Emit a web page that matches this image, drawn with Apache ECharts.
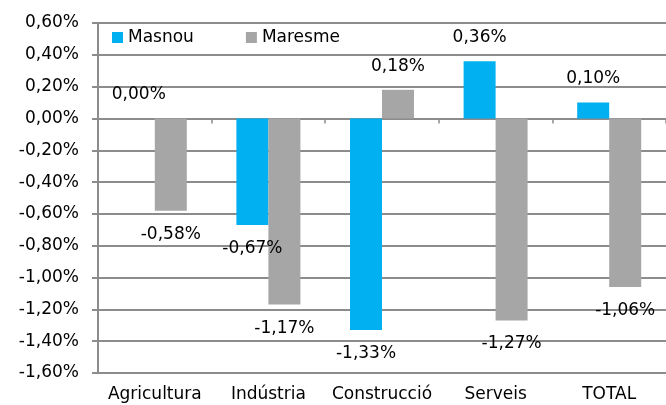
<!DOCTYPE html>
<html>
<head>
<meta charset="utf-8">
<script src="https://cdn.jsdelivr.net/npm/echarts@6/dist/echarts.min.js"></script>
<style>
html,body{margin:0;padding:0;background:#fff;}
#chart{width:666px;height:405px;}
</style>
</head>
<body>
<div id="chart"></div>
<script>
// dades
var sectors = ['Agricultura', 'Indústria', 'Construcció', 'Serveis', 'TOTAL'];
var masnou = [0.00, -0.67, -1.33, 0.36, 0.10];
var maresme = [-0.58, -1.17, 0.18, -1.27, -1.06];
var yMin = -1.6, yMax = 0.6, yStep = 0.2;

var font = 'DejaVu Sans';

function pct(v){
    return v.toFixed(2).replace('.', ',') + '%';
}

// etiqueta a dalt si es positiu, a baix si es negatiu
function withLabels(list){
    return list.map(function(v){
        return {value: v, label: {position: v < 0 ? 'bottom' : 'top'}};
    });
}

var chart = echarts.init(document.getElementById('chart'));
chart.setOption({
    animation: false,
    color: ['#00B0F0', '#A6A6A6'],
    textStyle: {fontFamily: font},
    grid: {left: 98, top: 23, width: 570, bottom: 32, containLabel: false},
    legend: {
        left: 112, top: 29, padding: 0,
        itemWidth: 11, itemHeight: 11, itemGap: 52,
        icon: 'rect',
        textStyle: {fontFamily: font, fontSize: 17, color: '#000'},
        data: ['Masnou', 'Maresme']
    },
    xAxis: [
        {
            type: 'category',
            data: sectors,
            position: 'bottom',
            axisLine: {show: false, onZero: false},
            axisTick: {show: false},
            axisLabel: {interval: 0, fontFamily: font, fontSize: 17, color: '#000', margin: 13}
        },
        {
            // linia del zero amb marques
            type: 'category',
            data: sectors,
            position: 'top',
            axisLine: {show: true, onZero: true, lineStyle: {color: '#8c8c8c', width: 2}},
            axisTick: {show: true, inside: true, length: 5, lineStyle: {color: '#8c8c8c', width: 1.5}},
            axisLabel: {show: false}
        }
    ],
    yAxis: {
        type: 'value',
        min: yMin, max: yMax, interval: yStep,
        axisLine: {show: true, lineStyle: {color: '#8c8c8c', width: 2}},
        axisTick: {show: true, length: 6, lineStyle: {color: '#8c8c8c', width: 2}},
        splitLine: {lineStyle: {color: '#8c8c8c', width: 2}},
        axisLabel: {
            fontFamily: font, fontSize: 17, color: '#000', margin: 19,
            formatter: function(v){ return pct(v); }
        }
    },
    series: [
        {
            name: 'Masnou',
            type: 'bar',
            barWidth: 32,
            barGap: '0%',
            data: withLabels(masnou),
            label: {
                show: true, distance: 15,
                fontFamily: font, fontSize: 17, color: '#000',
                formatter: function(p){ return pct(p.value); }
            }
        },
        {
            name: 'Maresme',
            type: 'bar',
            barWidth: 32,
            barGap: '0%',
            data: withLabels(maresme),
            label: {
                show: true, distance: 15,
                fontFamily: font, fontSize: 17, color: '#000',
                formatter: function(p){ return pct(p.value); }
            }
        }
    ]
});
</script>
</body>
</html>
